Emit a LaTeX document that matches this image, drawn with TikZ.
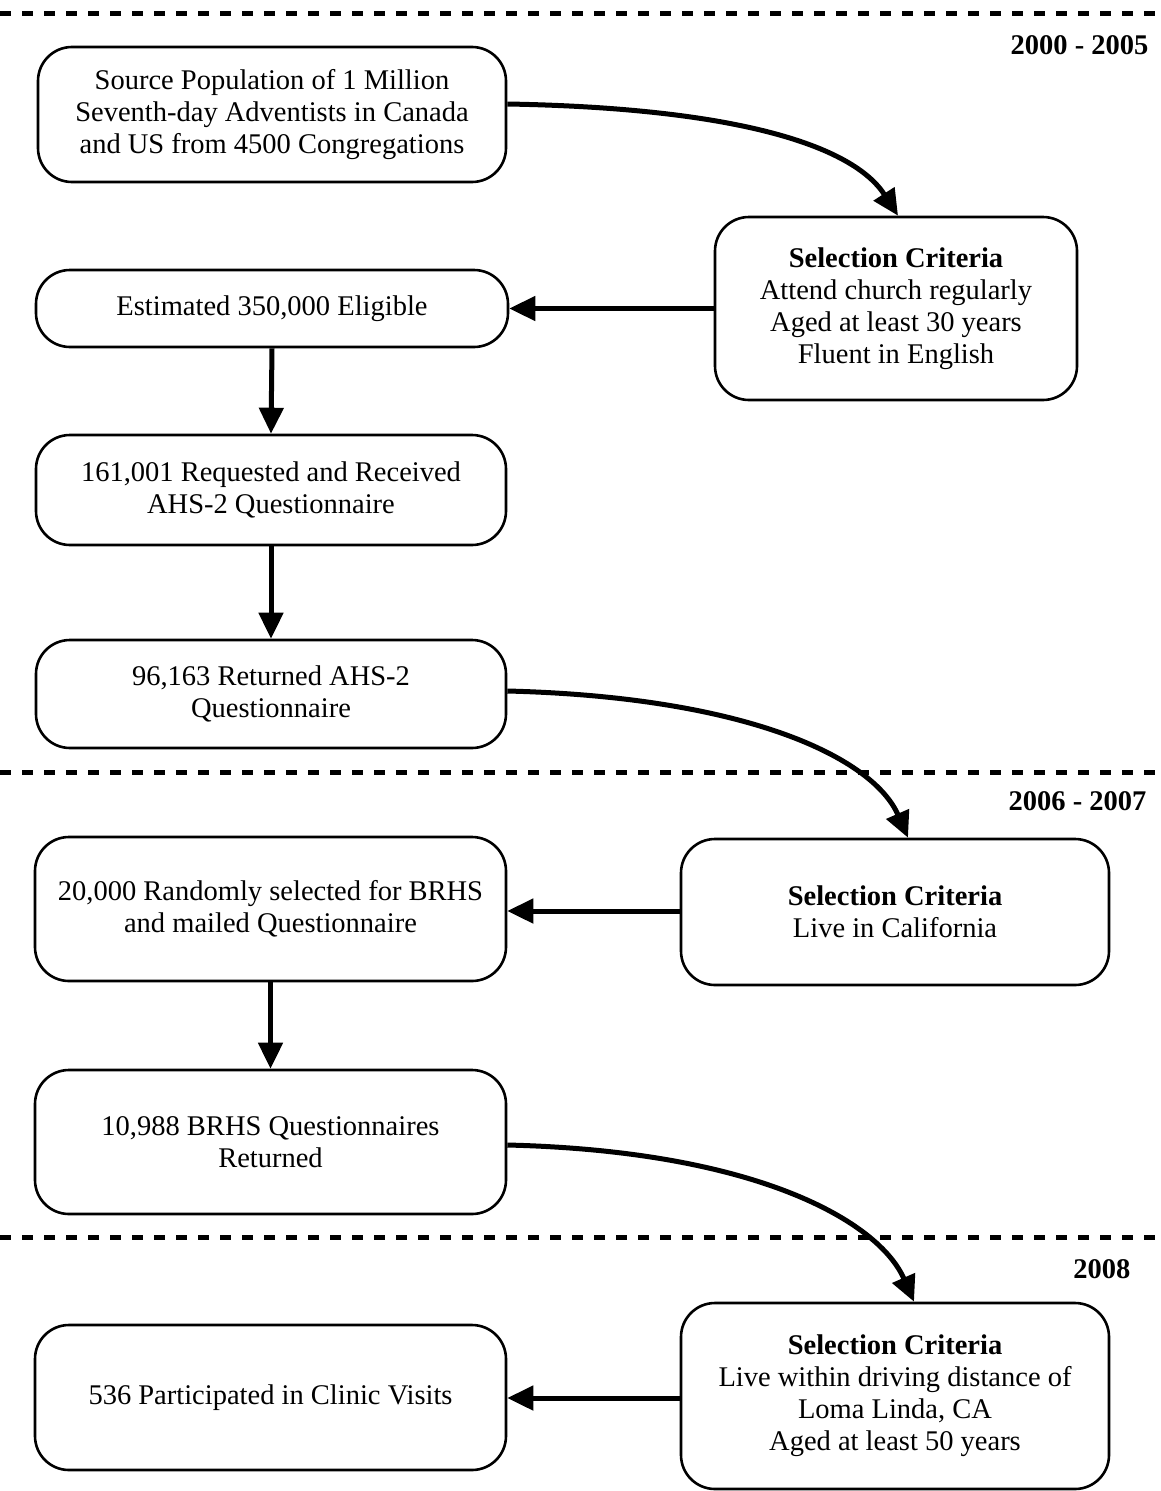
\documentclass[tikz,border=0pt]{standalone}
\usepackage{fontspec}
\setmainfont{Liberation Serif}
\usetikzlibrary{arrows.meta}
\begin{document}
\begin{tikzpicture}[x=1pt,y=-1pt,
  box/.style={draw, line width=2.6pt, rounded corners=34pt, align=center, inner sep=0pt,
    font=\fontsize{28.5}{32}\selectfont},
  arr/.style={line width=5pt, -{Triangle[length=26pt,width=24pt]}},
  sep/.style={line width=5pt, dash pattern=on 11pt off 11pt},
  yr/.style={anchor=east, font=\fontsize{28.5}{30}\selectfont\bfseries}]
\useasboundingbox (0,0) rectangle (1161,1491);
\draw[sep] (0,13) -- (1161,13);
\draw[sep] (0,772) -- (1161,772);
\draw[sep] (0,1237) -- (1161,1237);
\node[yr] (y1) at (1152,45) {2000 - 2005};
\node[yr] (y2) at (1150,801) {2006 - 2007};
\node[yr] (y3) at (1134,1269) {2008};

\node[box, minimum width=468pt, minimum height=135pt] (src) at (272,114.5)
  {Source Population of 1 Million\\Seventh-day Adventists in Canada\\and US from 4500 Congregations};
\node[box, minimum width=362pt, minimum height=183pt] (sel1) at (896,308.5)
  {\textbf{Selection Criteria}\\Attend church regularly\\Aged at least 30 years\\Fluent in English};
\node[box, minimum width=472pt, minimum height=77pt] (elig) at (272,308.5)
  {Estimated 350,000 Eligible};
\node[box, minimum width=470pt, minimum height=110pt] (req) at (271,490)
  {161,001 Requested and Received\\AHS-2 Questionnaire};
\node[box, minimum width=470pt, minimum height=108pt] (ret) at (271,694)
  {96,163 Returned AHS-2\\Questionnaire};
\node[box, minimum width=471pt, minimum height=144pt] (rand) at (270.5,909)
  {20,000 Randomly selected for BRHS\\and mailed Questionnaire};
\node[box, minimum width=428pt, minimum height=146pt] (sel2) at (895,912)
  {\textbf{Selection Criteria}\\Live in California};
\node[box, minimum width=471pt, minimum height=144pt] (brhs) at (270.5,1142)
  {10,988 BRHS Questionnaires\\Returned};
\node[box, minimum width=471pt, minimum height=145pt] (clin) at (270.5,1397.5)
  {536 Participated in Clinic Visits};
\node[box, minimum width=428pt, minimum height=186pt] (sel3) at (895,1396)
  {\textbf{Selection Criteria}\\Live within driving distance of\\Loma Linda, CA\\Aged at least 50 years};

\draw[arr] (src.east |- 0,104) .. controls +(230,4) and +(-45,-70) .. (sel1.north -| 898,0);
\draw[arr] (sel1.west) -- (elig.east);
\draw[arr] (elig.south) -- (req.north);
\draw[arr] (req.south) -- (ret.north);
\draw[arr] (ret.east |- 0,691) .. controls +(240,6) and +(-35,-80) .. (sel2.north -| 908,0);
\draw[arr] (sel2.west |- 0,911) -- (rand.east |- 0,911);
\draw[arr] (rand.south) -- (brhs.north);
\draw[arr] (brhs.east |- 0,1145) .. controls +(250,6) and +(-35,-80) .. (sel3.north -| 914,0);
\draw[arr] (sel3.west |- 0,1398) -- (clin.east |- 0,1398);
\end{tikzpicture}
\end{document}
